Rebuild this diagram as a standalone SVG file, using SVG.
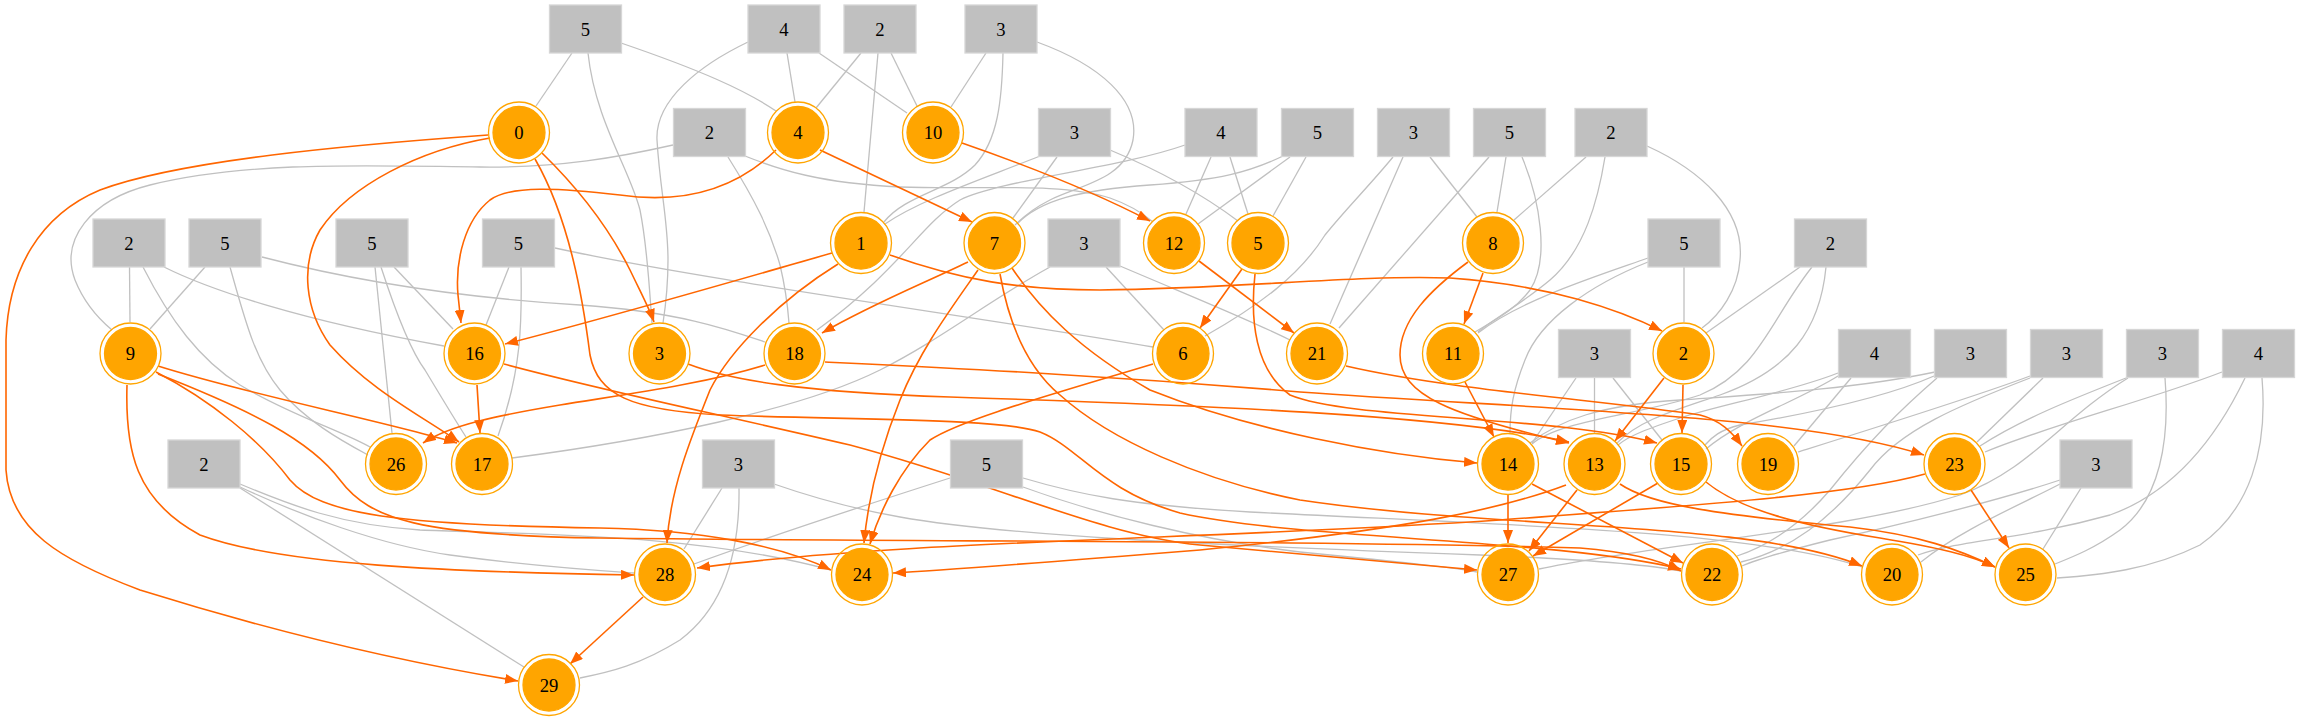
<svg xmlns="http://www.w3.org/2000/svg" width="2300" height="723" viewBox="0 0 2300 723">
<defs>
<style>
.o{fill:none;stroke:#ffa500;stroke-width:1.3}
.i{fill:#ffa500;stroke:#ffa500;stroke-width:1.3}
.b{fill:#c0c0c0;stroke:#d6d6d6;stroke-width:1.3}
text{font-family:"Liberation Serif","Times New Roman",serif;font-size:18.67px;text-anchor:middle;fill:#000}
.g{fill:none;stroke:#c0c0c0;stroke-width:1.3}
.e{fill:none;stroke:#ff6600;stroke-width:1.6;marker-end:url(#a)}
</style>
<marker id="a" viewBox="0 0 13 10" refX="13" refY="5" markerWidth="13" markerHeight="10" markerUnits="userSpaceOnUse" orient="auto"><path d="M0,0 L13,5 L0,10 z" fill="#ff6600"/></marker>
</defs>
<rect width="2300" height="723" fill="#fff"/>
<g id="connectors">
<path class="g" d="M572,53 L536,106"/>
<path class="g" d="M621,43 C700,70 745,90 776,111"/>
<path class="g" d="M588,53 C595,120 630,170 640,210 C648,250 650,300 652,323"/>
<path class="g" d="M787,53 L795,102"/>
<path class="g" d="M819,53 L907,113"/>
<path class="g" d="M748,42 C700,65 655,100 657,140 C660,190 668,220 668,260 C668,290 665,310 663,323"/>
<path class="g" d="M861,53 L816,108"/>
<path class="g" d="M891,53 L917,106"/>
<path class="g" d="M878,53 L864,212"/>
<path class="g" d="M986,53 L951,107"/>
<path class="g" d="M1003,53 C1002,100 998,140 975,165 C950,190 905,195 884,222"/>
<path class="g" d="M1037,42 C1100,65 1140,100 1133,140 C1125,180 1080,185 1050,200 C1030,210 1020,220 1015,225"/>
<path class="g" d="M673,145 C620,157 560,168 480,167 C380,166 250,160 150,185 C90,200 60,240 75,280 C85,305 100,320 112,330"/>
<path class="g" d="M745,156 C780,170 820,183 900,187 C980,190 1060,182 1110,198 C1130,205 1145,215 1153,222"/>
<path class="g" d="M728,157 C755,200 770,230 780,265 C786,290 788,310 789,323"/>
<path class="g" d="M1040,156 C980,180 920,200 885,224"/>
<path class="g" d="M1057,157 L1013,218"/>
<path class="g" d="M1110,150 C1170,175 1210,200 1238,221"/>
<path class="g" d="M1211,157 L1186,214"/>
<path class="g" d="M1230,157 L1248,214"/>
<path class="g" d="M1185,145 C1120,168 1000,180 960,200 C920,225 900,270 817,330"/>
<path class="g" d="M1290,157 L1198,224"/>
<path class="g" d="M1306,157 L1273,216"/>
<path class="g" d="M1283,156 C1250,172 1220,180 1150,185 C1080,190 1040,200 1017,224"/>
<path class="g" d="M1393,157 C1370,185 1345,210 1325,235 C1300,275 1260,305 1205,336"/>
<path class="g" d="M1403,157 L1330,324"/>
<path class="g" d="M1430,157 L1477,217"/>
<path class="g" d="M1489,157 L1339,328"/>
<path class="g" d="M1506,157 L1497,212"/>
<path class="g" d="M1522,157 C1540,200 1550,260 1530,290 C1515,310 1495,320 1475,332"/>
<path class="g" d="M1586,157 L1514,220"/>
<path class="g" d="M1605,157 C1598,200 1585,250 1550,280 C1520,305 1495,318 1478,332"/>
<path class="g" d="M1647,146 C1700,170 1745,210 1740,260 C1738,290 1720,315 1702,328"/>
<path class="g" d="M129.5,267 L130,322"/>
<path class="g" d="M164,267 C210,290 300,320 444,346"/>
<path class="g" d="M143,267 C170,320 200,360 240,385 C290,415 340,430 370,447"/>
<path class="g" d="M205,267 L150,329"/>
<path class="g" d="M230,267 C245,320 255,360 280,390 C305,420 340,440 368,455"/>
<path class="g" d="M262,257 C350,280 450,297 580,305 C680,312 730,330 765,342"/>
<path class="g" d="M375,267 L392,433"/>
<path class="g" d="M381,267 C395,310 410,350 425,370 C440,395 455,420 466,437"/>
<path class="g" d="M394,267 L453,329"/>
<path class="g" d="M509,267 L486,325"/>
<path class="g" d="M521,267 C522,320 522,370 498,436"/>
<path class="g" d="M555,248 C700,280 1000,320 1153,347"/>
<path class="g" d="M1050,267 C990,300 940,340 880,370 C800,410 650,440 512,458"/>
<path class="g" d="M1106,267 L1164,330"/>
<path class="g" d="M1120,266 C1200,300 1250,320 1290,340"/>
<path class="g" d="M1684,267 L1684,322"/>
<path class="g" d="M1648,258 C1600,275 1520,300 1478,333"/>
<path class="g" d="M1648,262 C1590,285 1540,320 1525,360 C1513,390 1510,410 1510,433"/>
<path class="g" d="M1800,267 L1706,333"/>
<path class="g" d="M1812,267 C1770,320 1760,370 1700,395 C1640,415 1560,420 1532,444"/>
<path class="g" d="M1826,267 C1820,330 1790,370 1720,395 C1670,412 1640,420 1617,443"/>
<path class="g" d="M1576,378 L1532,443"/>
<path class="g" d="M1594.5,378 L1594.5,433"/>
<path class="g" d="M1613,378 L1662,440"/>
<path class="g" d="M1851,378 L1794,446"/>
<path class="g" d="M1838,376 C1800,400 1740,420 1706,449"/>
<path class="g" d="M1838,373 C1790,392 1720,405 1680,418 C1650,428 1630,435 1618,445"/>
<path class="g" d="M1937,378 C1900,410 1870,440 1830,490 C1800,525 1770,545 1737,556"/>
<path class="g" d="M1934,376 C1880,400 1800,415 1740,425 C1720,430 1712,437 1705,445"/>
<path class="g" d="M1935,372 C1850,390 1750,395 1680,400 C1600,405 1560,420 1530,443"/>
<path class="g" d="M2030,376 C1980,395 1900,420 1798,452"/>
<path class="g" d="M2043,378 L1977,442"/>
<path class="g" d="M2030,378 C1960,405 1900,430 1870,470 C1830,520 1790,550 1741,562"/>
<path class="g" d="M2126,378 C2070,400 2020,420 1980,446"/>
<path class="g" d="M2128,378 C2060,420 2030,470 1960,495 C1850,530 1650,545 1539,569"/>
<path class="g" d="M2165,378 C2170,440 2160,500 2120,530 C2095,548 2075,556 2055,564"/>
<path class="g" d="M2222,372 C2150,400 2050,425 1985,452"/>
<path class="g" d="M2245,378 C2220,430 2180,490 2110,515 C2020,540 1960,540 1918,555"/>
<path class="g" d="M2262,378 C2268,450 2250,510 2200,545 C2150,570 2100,575 2057,578"/>
<path class="g" d="M240,488 L524,667"/>
<path class="g" d="M240,487 C300,515 380,545 450,555 C530,566 590,570 634,573"/>
<path class="g" d="M240,484 C290,505 340,525 420,530 C560,535 700,535 831,570"/>
<path class="g" d="M722,488 L684,549"/>
<path class="g" d="M739,488 C740,560 720,610 680,640 C640,665 610,672 580,678"/>
<path class="g" d="M774,484 C820,500 860,510 900,517 C1000,535 1200,545 1480,555 C1600,560 1650,565 1681,571"/>
<path class="g" d="M950,478 C850,510 760,540 694,564"/>
<path class="g" d="M1023,478 C1080,495 1130,505 1250,512 C1500,525 1750,530 1862,567"/>
<path class="g" d="M1023,487 C1100,515 1200,540 1300,552 C1400,562 1450,567 1477,572"/>
<path class="g" d="M2060,484 C2020,505 1960,530 1921,562"/>
<path class="g" d="M2081,488 L2043,549"/>
<path class="g" d="M2060,480 C2000,500 1900,525 1830,540 C1790,550 1760,558 1742,566"/>
<path class="e" d="M488,135 C350,145 180,160 100,190 C40,215 8,270 6,340 L6,470 C10,530 60,560 140,590 C300,640 420,665 518,681"/>
<path class="e" d="M490,138 C420,150 350,185 320,230 C300,265 305,310 330,345 C370,390 420,415 459,442"/>
<path class="e" d="M542,153 C580,190 610,230 630,270 C642,295 650,310 654,322"/>
<path class="e" d="M535,159 C570,220 583,300 590,355 C598,395 630,410 720,415 C850,420 1000,418 1040,432 C1080,448 1100,490 1180,513 C1300,540 1550,538 1681,569"/>
<path class="e" d="M776,150 C740,185 690,205 620,195 C560,188 510,185 490,200 C465,220 455,260 458,295 L461,323"/>
<path class="e" d="M820,150 L972,222"/>
<path class="e" d="M962,143 C1040,170 1100,195 1150,221"/>
<path class="e" d="M832,253 C720,285 600,320 505,344"/>
<path class="e" d="M838,264 C780,300 730,350 710,390 C690,440 670,490 667,543"/>
<path class="e" d="M890,255 C960,280 1020,290 1100,290 C1250,288 1350,275 1450,278 C1550,285 1620,310 1662,331"/>
<path class="e" d="M968,262 C920,285 870,305 822,333"/>
<path class="e" d="M978,270 C950,310 920,350 900,400 C880,450 868,500 864,543"/>
<path class="e" d="M1012,268 C1040,310 1080,350 1150,390 C1250,430 1380,455 1477,463"/>
<path class="e" d="M1000,274 C1010,330 1030,370 1060,395 C1110,440 1200,480 1300,500 C1500,530 1750,520 1862,566"/>
<path class="e" d="M1199,261 L1294,333"/>
<path class="e" d="M1242,269 L1200,328"/>
<path class="e" d="M1255,274 C1250,320 1255,370 1290,395 C1350,420 1550,415 1657,443"/>
<path class="e" d="M1483,273 L1464,324"/>
<path class="e" d="M1468,262 C1430,290 1400,320 1400,355 C1400,395 1450,415 1569,443"/>
<path class="e" d="M688,364 C730,380 800,392 950,397 C1200,405 1450,415 1569,442"/>
<path class="e" d="M1346,366 C1450,390 1600,400 1700,415 C1720,420 1732,432 1742,446"/>
<path class="e" d="M1465,382 L1494,437"/>
<path class="e" d="M1664,378 L1615,441"/>
<path class="e" d="M1683,385 L1682,433"/>
<path class="e" d="M765,365 C700,385 620,395 560,405 C500,415 450,425 423,443"/>
<path class="e" d="M825,362 C950,368 1100,375 1300,392 C1550,410 1800,415 1924,455"/>
<path class="e" d="M477,385 L480,433"/>
<path class="e" d="M504,364 C600,390 700,410 850,445 C1000,485 1100,535 1200,545 C1320,555 1420,565 1477,570"/>
<path class="e" d="M158,366 C250,395 380,420 457,443"/>
<path class="e" d="M127,385 C125,450 135,500 200,535 C280,565 450,572 634,575"/>
<path class="e" d="M156,372 C210,400 260,440 290,480 C320,515 400,525 600,528 C700,530 780,545 831,570"/>
<path class="e" d="M158,374 C250,410 310,440 340,480 C370,520 420,535 600,538 C900,542 1300,540 1580,548 C1630,552 1660,560 1681,571"/>
<path class="e" d="M1153,364 C1050,395 960,420 930,440 C900,470 880,510 870,544"/>
<path class="e" d="M1508,495 L1508,543"/>
<path class="e" d="M1532,484 L1683,563"/>
<path class="e" d="M1577,490 L1529,551"/>
<path class="e" d="M1566,485 C1500,510 1400,530 1200,550 C1050,562 950,570 893,573"/>
<path class="e" d="M1620,484 C1650,505 1720,515 1850,527 C1920,535 1960,550 1995,567"/>
<path class="e" d="M1658,483 L1533,556"/>
<path class="e" d="M1706,482 C1740,510 1800,525 1880,538 C1940,548 1970,555 1995,567"/>
<path class="e" d="M1971,490 L2009,548"/>
<path class="e" d="M1925,474 C1850,495 1700,505 1500,520 C1200,540 900,540 697,568"/>
<path class="e" d="M643,597 L570,664"/>
</g>
<g id="box_r1_5"><rect class="b" x="549.5" y="5" width="72" height="48"/><text x="585.5" y="35.5">5</text></g>
<g id="box_r1_4"><rect class="b" x="748" y="5" width="72" height="48"/><text x="784" y="35.5">4</text></g>
<g id="box_r1_2"><rect class="b" x="844" y="5" width="72" height="48"/><text x="880" y="35.5">2</text></g>
<g id="box_r1_3"><rect class="b" x="965" y="5" width="72" height="48"/><text x="1001" y="35.5">3</text></g>
<g id="box_r2_2a"><rect class="b" x="673.5" y="108.5" width="72" height="48"/><text x="709.5" y="139">2</text></g>
<g id="box_r2_3a"><rect class="b" x="1038.5" y="108.5" width="72" height="48"/><text x="1074.5" y="139">3</text></g>
<g id="box_r2_4"><rect class="b" x="1185" y="108.5" width="72" height="48"/><text x="1221" y="139">4</text></g>
<g id="box_r2_5a"><rect class="b" x="1281.5" y="108.5" width="72" height="48"/><text x="1317.5" y="139">5</text></g>
<g id="box_r2_3b"><rect class="b" x="1377.5" y="108.5" width="72" height="48"/><text x="1413.5" y="139">3</text></g>
<g id="box_r2_5b"><rect class="b" x="1473.5" y="108.5" width="72" height="48"/><text x="1509.5" y="139">5</text></g>
<g id="box_r2_2b"><rect class="b" x="1575" y="108.5" width="72" height="48"/><text x="1611" y="139">2</text></g>
<g id="box_r3_2a"><rect class="b" x="93" y="219" width="72" height="48"/><text x="129" y="249.5">2</text></g>
<g id="box_r3_5a"><rect class="b" x="189" y="219" width="72" height="48"/><text x="225" y="249.5">5</text></g>
<g id="box_r3_5b"><rect class="b" x="336" y="219" width="72" height="48"/><text x="372" y="249.5">5</text></g>
<g id="box_r3_5c"><rect class="b" x="482.5" y="219" width="72" height="48"/><text x="518.5" y="249.5">5</text></g>
<g id="box_r3_3"><rect class="b" x="1048" y="219" width="72" height="48"/><text x="1084" y="249.5">3</text></g>
<g id="box_r3_5d"><rect class="b" x="1648" y="219" width="72" height="48"/><text x="1684" y="249.5">5</text></g>
<g id="box_r3_2b"><rect class="b" x="1794.5" y="219" width="72" height="48"/><text x="1830.5" y="249.5">2</text></g>
<g id="box_r4_3a"><rect class="b" x="1558.5" y="329.5" width="72" height="48"/><text x="1594.5" y="360">3</text></g>
<g id="box_r4_4a"><rect class="b" x="1838.5" y="329.5" width="72" height="48"/><text x="1874.5" y="360">4</text></g>
<g id="box_r4_3b"><rect class="b" x="1934.5" y="329.5" width="72" height="48"/><text x="1970.5" y="360">3</text></g>
<g id="box_r4_3c"><rect class="b" x="2030.5" y="329.5" width="72" height="48"/><text x="2066.5" y="360">3</text></g>
<g id="box_r4_3d"><rect class="b" x="2126.5" y="329.5" width="72" height="48"/><text x="2162.5" y="360">3</text></g>
<g id="box_r4_4b"><rect class="b" x="2222.5" y="329.5" width="72" height="48"/><text x="2258.5" y="360">4</text></g>
<g id="box_r5_2"><rect class="b" x="168" y="440" width="72" height="48"/><text x="204" y="470.5">2</text></g>
<g id="box_r5_3a"><rect class="b" x="702.5" y="440" width="72" height="48"/><text x="738.5" y="470.5">3</text></g>
<g id="box_r5_5"><rect class="b" x="950.5" y="440" width="72" height="48"/><text x="986.5" y="470.5">5</text></g>
<g id="box_r5_3b"><rect class="b" x="2060" y="440" width="72" height="48"/><text x="2096" y="470.5">3</text></g>
<g id="n0"><circle class="o" cx="519" cy="132.5" r="30.5"/><circle class="i" cx="519" cy="132.5" r="26"/><text x="519" y="139">0</text></g>
<g id="n4"><circle class="o" cx="798" cy="132.5" r="30.5"/><circle class="i" cx="798" cy="132.5" r="26"/><text x="798" y="139">4</text></g>
<g id="n10"><circle class="o" cx="933" cy="132.5" r="30.5"/><circle class="i" cx="933" cy="132.5" r="26"/><text x="933" y="139">10</text></g>
<g id="n1"><circle class="o" cx="861" cy="243" r="30.5"/><circle class="i" cx="861" cy="243" r="26"/><text x="861" y="249.5">1</text></g>
<g id="n7"><circle class="o" cx="994.5" cy="243" r="30.5"/><circle class="i" cx="994.5" cy="243" r="26"/><text x="994.5" y="249.5">7</text></g>
<g id="n12"><circle class="o" cx="1174" cy="243" r="30.5"/><circle class="i" cx="1174" cy="243" r="26"/><text x="1174" y="249.5">12</text></g>
<g id="n5"><circle class="o" cx="1258" cy="243" r="30.5"/><circle class="i" cx="1258" cy="243" r="26"/><text x="1258" y="249.5">5</text></g>
<g id="n8"><circle class="o" cx="1493" cy="243" r="30.5"/><circle class="i" cx="1493" cy="243" r="26"/><text x="1493" y="249.5">8</text></g>
<g id="n9"><circle class="o" cx="130.5" cy="353.5" r="30.5"/><circle class="i" cx="130.5" cy="353.5" r="26"/><text x="130.5" y="360">9</text></g>
<g id="n16"><circle class="o" cx="474.5" cy="353.5" r="30.5"/><circle class="i" cx="474.5" cy="353.5" r="26"/><text x="474.5" y="360">16</text></g>
<g id="n3"><circle class="o" cx="659.5" cy="353.5" r="30.5"/><circle class="i" cx="659.5" cy="353.5" r="26"/><text x="659.5" y="360">3</text></g>
<g id="n18"><circle class="o" cx="794.5" cy="353.5" r="30.5"/><circle class="i" cx="794.5" cy="353.5" r="26"/><text x="794.5" y="360">18</text></g>
<g id="n6"><circle class="o" cx="1183" cy="353.5" r="30.5"/><circle class="i" cx="1183" cy="353.5" r="26"/><text x="1183" y="360">6</text></g>
<g id="n21"><circle class="o" cx="1317" cy="353.5" r="30.5"/><circle class="i" cx="1317" cy="353.5" r="26"/><text x="1317" y="360">21</text></g>
<g id="n11"><circle class="o" cx="1453" cy="353.5" r="30.5"/><circle class="i" cx="1453" cy="353.5" r="26"/><text x="1453" y="360">11</text></g>
<g id="n2"><circle class="o" cx="1683.5" cy="353.5" r="30.5"/><circle class="i" cx="1683.5" cy="353.5" r="26"/><text x="1683.5" y="360">2</text></g>
<g id="n26"><circle class="o" cx="396" cy="464" r="30.5"/><circle class="i" cx="396" cy="464" r="26"/><text x="396" y="470.5">26</text></g>
<g id="n17"><circle class="o" cx="482" cy="464" r="30.5"/><circle class="i" cx="482" cy="464" r="26"/><text x="482" y="470.5">17</text></g>
<g id="n14"><circle class="o" cx="1508" cy="464" r="30.5"/><circle class="i" cx="1508" cy="464" r="26"/><text x="1508" y="470.5">14</text></g>
<g id="n13"><circle class="o" cx="1594.5" cy="464" r="30.5"/><circle class="i" cx="1594.5" cy="464" r="26"/><text x="1594.5" y="470.5">13</text></g>
<g id="n15"><circle class="o" cx="1681" cy="464" r="30.5"/><circle class="i" cx="1681" cy="464" r="26"/><text x="1681" y="470.5">15</text></g>
<g id="n19"><circle class="o" cx="1768" cy="464" r="30.5"/><circle class="i" cx="1768" cy="464" r="26"/><text x="1768" y="470.5">19</text></g>
<g id="n23"><circle class="o" cx="1954.5" cy="464" r="30.5"/><circle class="i" cx="1954.5" cy="464" r="26"/><text x="1954.5" y="470.5">23</text></g>
<g id="n28"><circle class="o" cx="665" cy="574.5" r="30.5"/><circle class="i" cx="665" cy="574.5" r="26"/><text x="665" y="581">28</text></g>
<g id="n24"><circle class="o" cx="862" cy="574.5" r="30.5"/><circle class="i" cx="862" cy="574.5" r="26"/><text x="862" y="581">24</text></g>
<g id="n27"><circle class="o" cx="1508" cy="574.5" r="30.5"/><circle class="i" cx="1508" cy="574.5" r="26"/><text x="1508" y="581">27</text></g>
<g id="n22"><circle class="o" cx="1712" cy="574.5" r="30.5"/><circle class="i" cx="1712" cy="574.5" r="26"/><text x="1712" y="581">22</text></g>
<g id="n20"><circle class="o" cx="1892" cy="574.5" r="30.5"/><circle class="i" cx="1892" cy="574.5" r="26"/><text x="1892" y="581">20</text></g>
<g id="n25"><circle class="o" cx="2025.5" cy="574.5" r="30.5"/><circle class="i" cx="2025.5" cy="574.5" r="26"/><text x="2025.5" y="581">25</text></g>
<g id="n29"><circle class="o" cx="549" cy="685" r="30.5"/><circle class="i" cx="549" cy="685" r="26"/><text x="549" y="691.5">29</text></g>
</svg>
